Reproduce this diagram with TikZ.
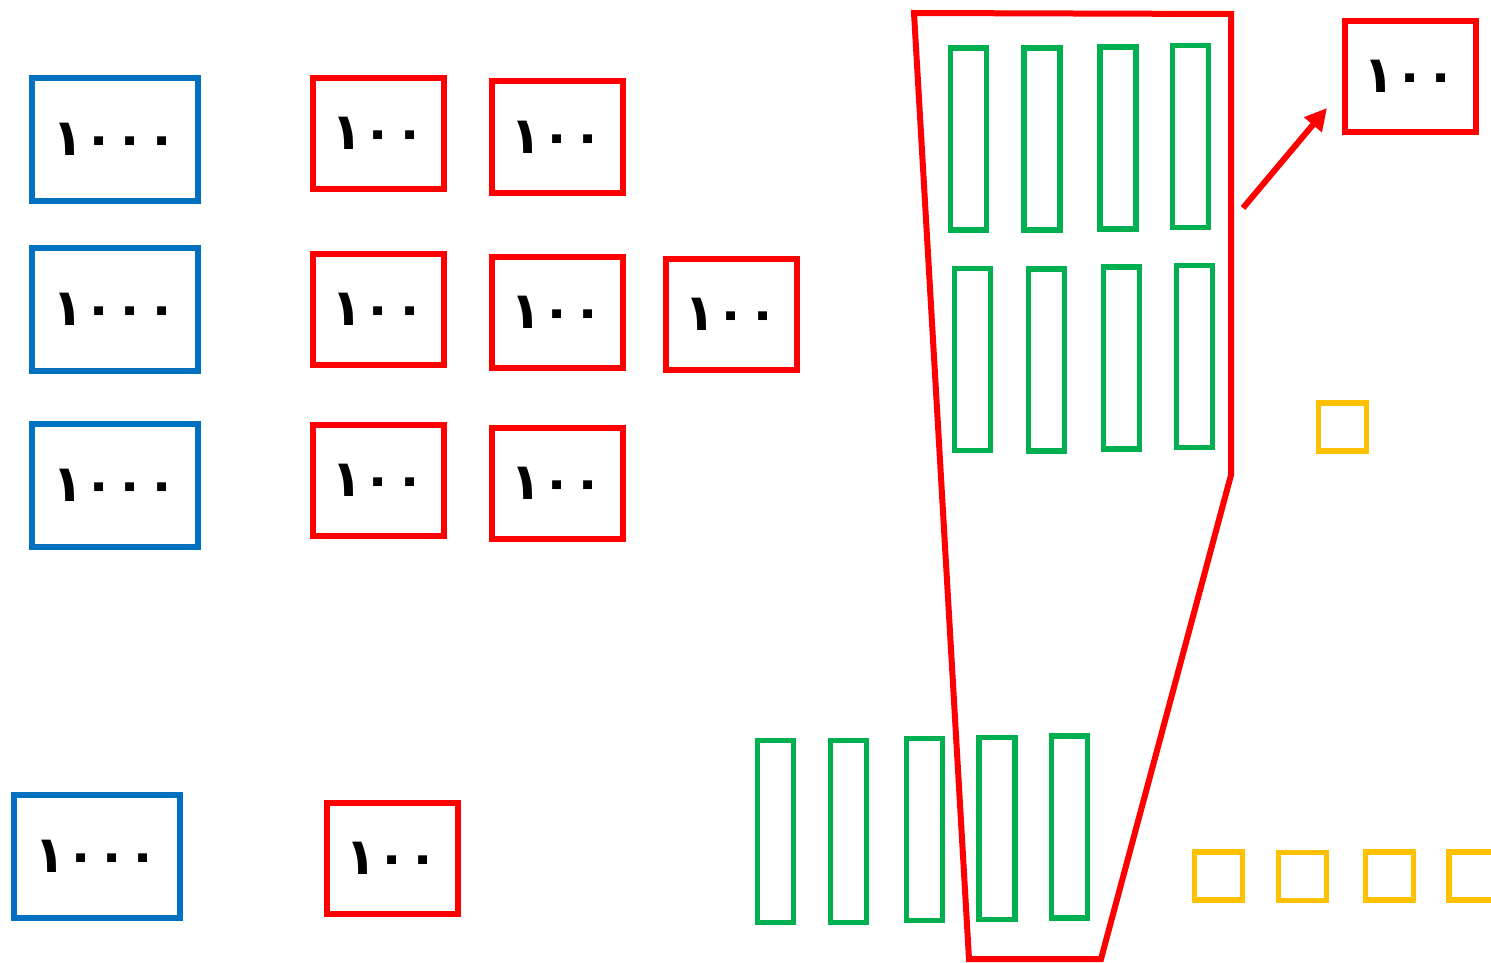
\documentclass[tikz,border=0pt]{standalone}
\usepackage{fontspec}
\newfontfamily\digitfont{DejaVu Sans}
\usepackage{tikz}
\usetikzlibrary{arrows.meta}
\definecolor{boxblue}{HTML}{0070C0}
\definecolor{boxred}{HTML}{FF0000}
\definecolor{rodgreen}{HTML}{00B050}
\definecolor{unityellow}{HTML}{FFC000}

\begin{document}
\begin{tikzpicture}[x=1pt, y=-1pt,
    thousand/.style={draw=boxblue, line width=6pt, minimum width=166pt, minimum height=123pt, font=\digitfont\bfseries\fontsize{51}{51}\selectfont},
    hundred/.style={draw=boxred, line width=6pt, minimum width=131pt, minimum height=111pt, font=\digitfont\bfseries\fontsize{51}{51}\selectfont},
    rod/.style={draw=rodgreen, line width=5.5pt, minimum width=36pt, minimum height=182pt},
    unit/.style={draw=unityellow, line width=5.5pt, minimum size=48pt}]

                    \clip (0,0) rectangle (1491,963);

                    \node[thousand] (T1) at (115,139.5) {١٠٠٠};
                    \node[thousand] (T2) at (115,309) {١٠٠٠};
                    \node[thousand] (T3) at (115,485.5) {١٠٠٠};
                    \node[thousand] (T4) at (96.5,856.5) {١٠٠٠};

                    \node[hundred] (H1) at (378.5,133.5) {١٠٠};
                    \node[hundred] (H2) at (557,137) {١٠٠};
                    \node[hundred] (H3) at (378.5,309) {١٠٠};
                    \node[hundred] (H4) at (557,312) {١٠٠};
                    \node[hundred] (H5) at (731.5,314.5) {١٠٠};
                    \node[hundred] (H6) at (378.5,480) {١٠٠};
                    \node[hundred] (H7) at (557,483.5) {١٠٠};
                    \node[hundred] (H8) at (392,858.5) {١٠٠};
                    \node[hundred] (H9) at (1410,76.5) {١٠٠};

                    \node[rod] (A1) at (968.5,139) {};
                    \node[rod] (A2) at (1042,139) {};
                    \node[rod] (A3) at (1118,138) {};
                    \node[rod] (A4) at (1190.5,136.5) {};
                    \node[rod] (B1) at (972.5,359.5) {};
                    \node[rod] (B2) at (1046.5,360) {};
                    \node[rod] (B3) at (1121.5,358) {};
                    \node[rod] (B4) at (1194.5,356.5) {};
                    \node[rod] (C1) at (775.5,831.5) {};
                    \node[rod] (C2) at (848.5,831.5) {};
                    \node[rod] (C3) at (924.5,829.5) {};
                    \node[rod] (C4) at (997,828.5) {};
                    \node[rod] (C5) at (1069.5,827) {};

                    \node[unit] (U1) at (1342.5,427) {};
                    \node[unit] (U2) at (1218.5,876) {};
                    \node[unit] (U3) at (1302.5,876.5) {};
                    \node[unit] (U4) at (1389.5,876) {};
                    \node[unit] (U5) at (1473,876) {};

                    % the ten rods taken together
                    \draw[boxred, line width=6pt] (914,13) -- (1231,14) -- (1231,475) -- (1101,959) -- (969,959) -- cycle;

                    \coordinate (gather) at (1243,208);
                    \coordinate (reach) at (1327,108);
                    \draw[boxred, line width=6pt, -{Triangle[length=22pt, width=22pt]}] (gather) -- (reach);

\end{tikzpicture}
\end{document}
